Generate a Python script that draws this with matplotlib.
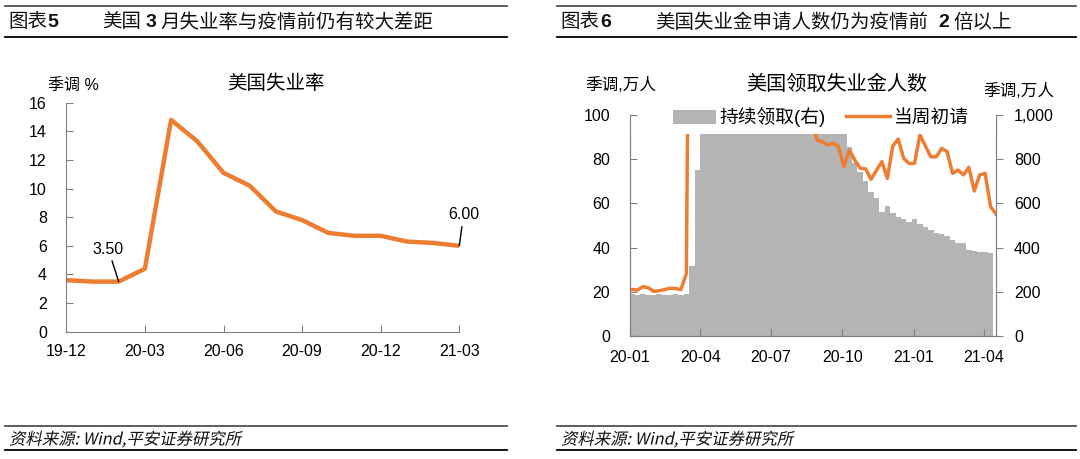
import numpy as np
import pandas as pd
import matplotlib
matplotlib.use('Agg')
import matplotlib.pyplot as plt
import matplotlib.dates as mdates
import matplotlib.transforms as mtransforms
from matplotlib.lines import Line2D
from matplotlib.patches import PathPatch, Rectangle
from matplotlib.textpath import TextPath
from matplotlib.font_manager import FontProperties
from matplotlib.ticker import FuncFormatter

plt.rcParams['font.family'] = ['Liberation Sans', 'Noto Sans CJK SC']

###############################################################################

# Left chart: monthly US unemployment rate (%)
months = ['19-12', '20-01', '20-02', '20-03', '20-04', '20-05', '20-06',
          '20-07', '20-08', '20-09', '20-10', '20-11', '20-12', '21-01',
          '21-02', '21-03']
unemp_rate = [3.6, 3.5, 3.5, 4.4, 14.8, 13.3, 11.1, 10.2, 8.4, 7.8, 6.9,
              6.7, 6.7, 6.3, 6.2, 6.0]

# Right chart: weekly claims (10k persons), week ending Saturday
first_week = '2020-01-04'
last_week = '2021-04-17'
initial_claims = [21.0, 20.8, 22.3, 21.8, 20.2, 20.5, 21.0, 21.6, 21.5, 21.0,
                  28.2, 330.7, 686.7, 661.5, 523.7, 444.2, 386.7, 317.6,
                  268.7, 244.6, 212.3, 189.7, 156.6, 154.1, 148.2, 141.3,
                  131.4, 130.7, 142.2, 143.4, 118.6, 96.3, 110.6, 101.1,
                  88.7, 87.9, 86.4, 87.2, 85.7, 76.6, 84.2, 79.6, 75.9, 75.6,
                  70.9, 75.0, 78.9, 71.3, 86.0, 89.1, 80.4, 78.1, 78.1, 91.0,
                  86.0, 81.1, 81.1, 84.9, 83.4, 73.6, 75.1, 72.9, 76.3, 65.6,
                  72.9, 73.6, 58.5, 55.2]
continuing_claims = [188, 186, 189, 187, 186, 188, 187, 186, 188, 187, 188,
                     318, 751, 1198, 1598, 1846, 2268, 2283, 2484, 2095,
                     2128, 2006, 1951, 1876, 1773, 1734, 1738, 1616, 1694,
                     1613, 1549, 1453, 1449, 1332, 1268, 1260, 1258, 1161,
                     1105, 1002, 855, 785, 740, 700, 650, 625, 563, 588, 555,
                     540, 530, 517, 528, 506, 492, 478, 467, 463, 452, 434,
                     422, 419, 390, 383, 380, 380, 377]

###############################################################################

W, H, DPI = 1080, 459, 100
ORANGE = '#ED7D31'
GRAY = '#B4B4B4'
SPINE = '#808080'
CJK = 'Noto Sans CJK SC'


def fx(px):
    return px / W


def fy(py):
    return 1 - py / H


def hline(x0, x1, y, color, lw):
    fig.add_artist(Line2D([fx(x0), fx(x1)], [fy(y), fy(y)], color=color,
                          lw=lw, transform=fig.transFigure))


def slanted_text(px, py_base, s, size):
    # italic look for CJK source text
    tp = TextPath((0, 0), s, prop=FontProperties(family=CJK, size=size))
    tr = (mtransforms.Affine2D().skew_deg(12, 0).scale(DPI / 72.)
          .translate(px, H - py_base))
    fig.add_artist(PathPatch(tp, transform=tr, facecolor='#111111', lw=0))


fig = plt.figure(figsize=(W / DPI, H / DPI), dpi=DPI)

# Headers and footers
for x0, x1 in [(5, 507), (557, 1076)]:
    hline(x0, x1, 5.7, '#404040', 1.2)
    hline(x0, x1, 37.3, 'black', 1.3)
    hline(x0, x1, 425.7, '#505050', 1.3)
    hline(x0, x1, 450.3, 'black', 1.3)
    slanted_text(x0 + 4, 444.5, '资料来源: Wind,平安证券研究所', 11.8)

hdr = dict(size=14, va='center', color='#111111')
fig.text(fx(8.3), fy(22.5), '图表', **hdr)
fig.text(fx(47.5), fy(22.5), '5', weight='bold', **hdr)
fig.text(fx(101.7), fy(22.5), '美国', **hdr)
fig.text(fx(145.7), fy(22.5), '3', weight='bold', **hdr)
fig.text(fx(160), fy(22.5), '月失业率与疫情前仍有较大差距', **hdr)

fig.text(fx(560.7), fy(22.5), '图表', **hdr)
fig.text(fx(600), fy(22.5), '6', weight='bold', **hdr)
fig.text(fx(655), fy(22.5), '美国失业金申请人数仍为疫情前', **hdr)
fig.text(fx(938), fy(22.5), '2', weight='bold', **hdr)
fig.text(fx(953), fy(22.5), '倍以上', **hdr)

###############################################################################
# Left chart

ax = fig.add_axes([fx(66.3), fy(331.7), (459.3 - 66.3) / W,
                   (331.7 - 102.7) / H])
xi = np.arange(len(months))
ax.plot(xi, unemp_rate, color=ORANGE, lw=3.2)
ax.set_xlim(0, len(months) - 1)
ax.set_ylim(0, 16)
ax.set_yticks(np.arange(0, 17, 2))
ax.set_xticks(xi[::3])
ax.set_xticklabels(months[::3])
for side in ['top', 'right']:
    ax.spines[side].set_visible(False)
for side in ['left', 'bottom']:
    ax.spines[side].set_color(SPINE)
ax.tick_params(axis='both', direction='in', length=5, color=SPINE,
               labelsize=11.5)
ax.tick_params(axis='y', pad=14)
ax.tick_params(axis='x', pad=9)

arrow = dict(arrowstyle='-', color='black', lw=1, shrinkA=1, shrinkB=0)
ax.annotate('%.2f' % unemp_rate[2], xy=(2, unemp_rate[2]),
            xytext=(-7.5, 23.3), textcoords='offset points', ha='center',
            va='center', fontsize=11.5, arrowprops=arrow)
ax.annotate('%.2f' % unemp_rate[-1], xy=(xi[-1], unemp_rate[-1]),
            xytext=(3, 22.2), textcoords='offset points', ha='center',
            va='center', fontsize=11.5, arrowprops=arrow,
            annotation_clip=False)

fig.text(fx(48), fy(85), '季调 %', size=11.5, va='center')
fig.text(fx(276), fy(84), '美国失业率', size=14, ha='center', va='center')

###############################################################################
# Right chart

weeks = pd.date_range(first_week, last_week, freq='W-SAT')
wx = mdates.date2num(weeks.to_pydatetime())

rect = [fx(629.7), fy(336), (996 - 629.7) / W, (336 - 115) / H]
axL = fig.add_axes(rect)
axR = axL.twinx()
axL.set_zorder(axR.get_zorder() + 1)
axL.patch.set_visible(False)
axL.set_axisbelow(False)

bars = axR.bar(wx[:len(continuing_claims)], continuing_claims, width=7,
               color=GRAY, linewidth=0)
line, = axL.plot(wx, initial_claims, color=ORANGE, lw=2.5)

# white band behind the legend
axL.add_patch(Rectangle((0, 0.915), 1, 0.2, transform=axL.transAxes,
                        facecolor='white', edgecolor='none', zorder=2.2))

axL.set_ylim(0, 100)
axR.set_ylim(0, 1000)
axL.set_yticks(np.arange(0, 101, 20))
axR.set_yticks(np.arange(0, 1001, 200))
axR.yaxis.set_major_formatter(FuncFormatter(lambda v, p: '{:,.0f}'.format(v)))
axL.set_xlim(mdates.date2num(pd.Timestamp('2020-01-01')),
             mdates.date2num(pd.Timestamp('2021-04-17')))
axL.xaxis.set_major_locator(mdates.MonthLocator(bymonth=[1, 4, 7, 10]))
axL.xaxis.set_major_formatter(mdates.DateFormatter('%y-%m'))

for a in (axL, axR):
    a.spines['top'].set_visible(False)
    for side in ['left', 'right', 'bottom']:
        a.spines[side].set_color(SPINE)
axL.tick_params(axis='y', direction='in', length=5, color=SPINE,
                labelsize=11.5, pad=14)
axL.tick_params(axis='x', direction='in', length=5, color=SPINE,
                labelsize=11.5, pad=10)
axR.tick_params(axis='y', direction='out', length=5, color=SPINE,
                labelsize=11.5, pad=8)

axL.legend(handles=[bars, line], labels=['持续领取(右)', '当周初请'],
           loc='center', bbox_to_anchor=(0.521, 0.99), ncol=2,
           frameon=False, fontsize=13.5, handlelength=2.3, handleheight=0.8,
           columnspacing=1.1, handletextpad=0.2)

fig.text(fx(585), fy(85), '季调,万人', size=12, va='center')
fig.text(fx(983), fy(91), '季调,万人', size=12, va='center')
fig.text(fx(837), fy(84), '美国领取失业金人数', size=14.5, ha='center',
         va='center')

fig.savefig('out.png', dpi=DPI, facecolor='white')
